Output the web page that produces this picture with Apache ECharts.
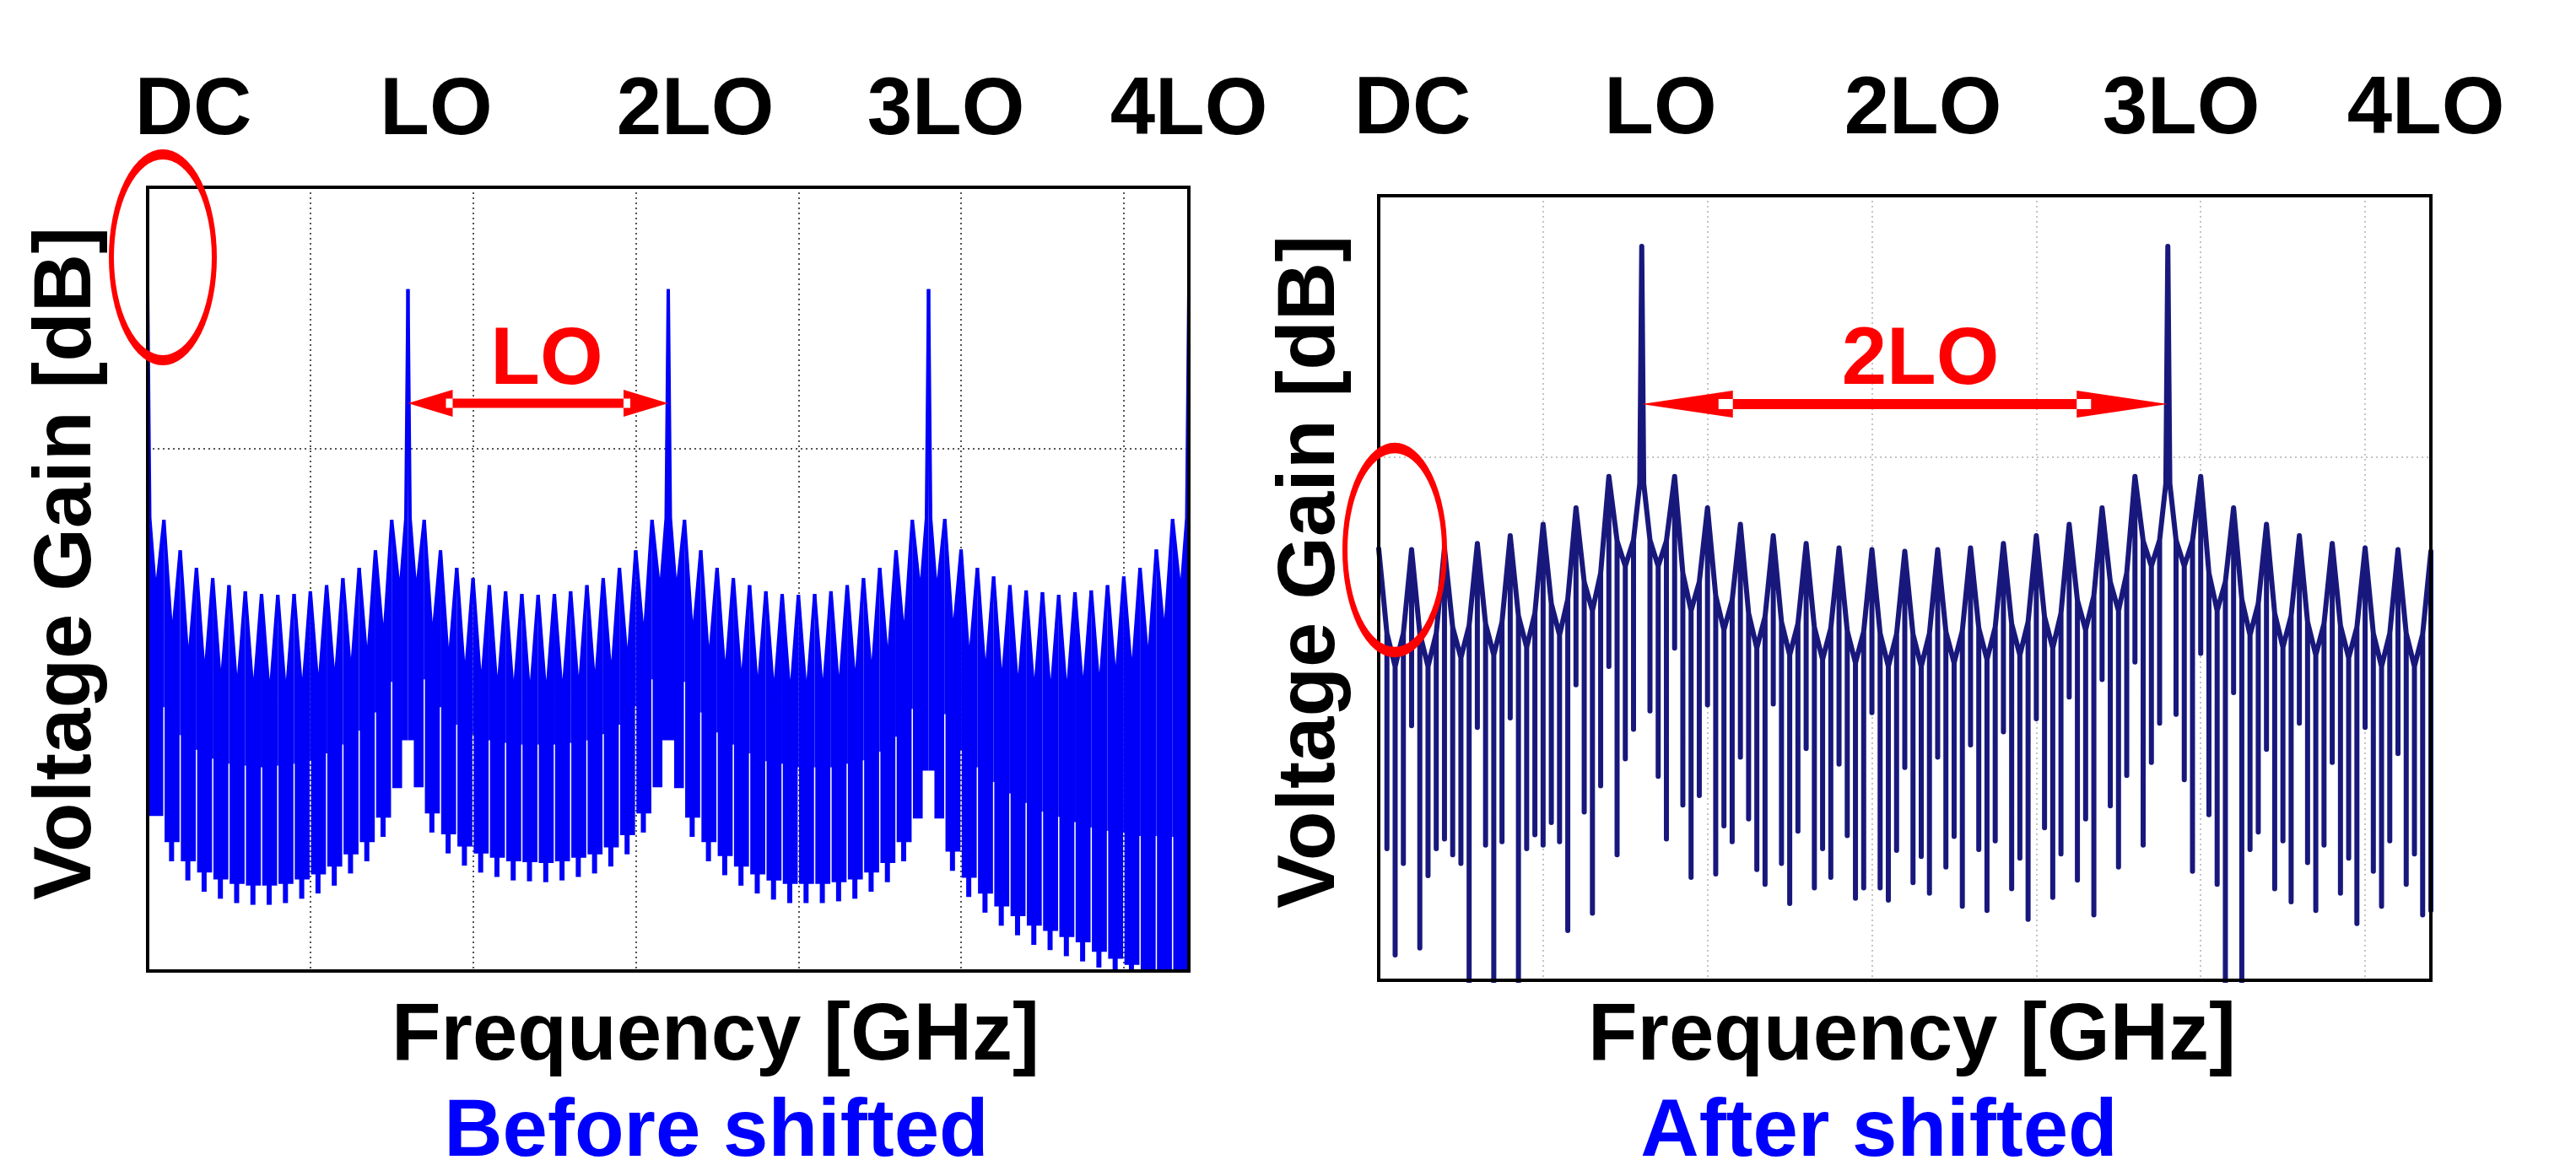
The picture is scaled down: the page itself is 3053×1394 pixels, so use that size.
<!DOCTYPE html>
<html><head><meta charset="utf-8">
<script src="https://cdn.jsdelivr.net/npm/echarts@6/dist/echarts.min.js"></script>
<style>html,body{margin:0;padding:0;background:#fff}#c{width:3053px;height:1394px}</style>
</head><body><div id="c"></div>
<script>
// ---------- tick labels ----------
const harmonicLabels = ['DC', 'LO', '2LO', '3LO', '4LO'];

// ---------- LEFT ("Before shifted"), x in sub-units (LO = 16), y in dB ----------
const lPeak = [18.3,
 -8.2,-11.7,-13.7,-14.9,-15.7,-16.4,-16.7,-16.8,-16.7,-16.4,-15.7,-14.9,-13.7,-11.7,-8.2,
 18.3,
 -8.2,-11.7,-13.7,-14.9,-15.7,-16.4,-16.7,-16.8,-16.7,-16.4,-15.7,-14.9,-13.7,-11.7,-8.2,
 18.3,
 -8.2,-11.7,-13.7,-14.9,-15.7,-16.4,-16.7,-16.8,-16.7,-16.4,-15.7,-14.9,-13.7,-11.7,-8.2,
 18.3,
 -8.1,-11.6,-13.7,-14.7,-15.7,-16.3,-16.5,-16.8,-16.5,-16.3,-15.7,-14.7,-13.7,-11.6,-8.1,
 18.3];
const lCusp = [
 -17.0,-22.2,-25.2,-26.8,-27.9,-28.5,-28.9,-29.1,-29.1,-28.9,-28.3,-27.7,-26.6,-25.2,-22.7,-17.0,
 -17.0,-22.5,-25.4,-27.0,-28.1,-28.7,-29.1,-29.2,-29.2,-29.1,-28.7,-28.1,-27.0,-25.4,-22.5,-17.0,
 -17.0,-22.3,-25.2,-26.9,-27.9,-28.6,-29.0,-29.1,-29.1,-29.0,-28.6,-27.9,-26.9,-25.2,-22.3,-17.0,
 -17.1,-22.0,-25.2,-26.8,-27.9,-28.5,-28.9,-29.1,-29.1,-28.7,-28.3,-27.4,-26.6,-25.2,-22.0,-17.1];
const lGap = [-37.0,
 -29.7,-32.9,-34.6,-35.6,-36.2,-36.4,-36.6,-36.4,-36.2,-35.8,-35.0,-34.0,-32.4,-30.3,-26.8,
 -33.5,
 -26.5,-29.7,-31.7,-32.8,-33.5,-33.8,-34.0,-34.0,-34.0,-33.8,-33.5,-32.8,-31.7,-29.6,-26.5,
 -33.5,
 -26.8,-30.3,-32.6,-34.0,-35.0,-35.9,-36.2,-36.6,-36.6,-36.6,-36.2,-35.8,-34.8,-33.1,-29.9,
 -37.0,
 -30.5,-34.6,-36.6,-38.3,-39.6,-40.7,-41.7,-42.3,-42.9,-43.5,-43.9,-44.1,-44.5,-44.5,-44.6,
 -44.6];
const lTooth = [
 -42.2,-45.2,-47.4,-48.7,-49.5,-50.0,-50.2,-50.2,-50.0,-49.5,-48.9,-48.0,-46.6,-45.2,-42.4,-39.0,
 -38.9,-41.9,-44.3,-45.7,-46.5,-47.0,-47.4,-47.5,-47.6,-47.4,-47.0,-46.6,-45.8,-44.4,-41.9,-38.9,
 -39.0,-42.4,-45.2,-46.8,-48.0,-48.9,-49.6,-50.0,-50.0,-50.0,-49.8,-49.5,-48.7,-47.6,-45.2,-42.5,
 -42.5,-46.3,-49.3,-51.1,-52.6,-53.7,-54.8,-55.4,-56.1,-56.7,-57.8,-58.6,-59.3,-60.0,-60.0,-60.0];
const lFoot = [
 -42.2,-47.4,-49.6,-50.9,-51.7,-52.2,-52.4,-52.4,-52.2,-51.7,-51.1,-50.2,-48.8,-47.4,-44.6,-39.0,
 -38.9,-44.1,-46.5,-47.9,-48.7,-49.2,-49.6,-49.7,-49.8,-49.6,-49.2,-48.8,-48.0,-46.6,-44.1,-38.9,
 -39.0,-44.6,-47.4,-49.0,-50.2,-51.1,-51.8,-52.2,-52.2,-52.2,-52.0,-51.7,-50.9,-49.8,-47.4,-42.5,
 -42.5,-48.5,-51.5,-53.3,-54.8,-55.9,-57.0,-57.6,-58.3,-58.9,-59.6,-60.0,-60.0,-60.0,-60.0,-60.0];
const lBigShoulder = -8.0;

// ---------- RIGHT ("After shifted") ----------
const rPeaks = [-10.5,-10.6,-10.4,-9.9,-9.0,-7.7,-5.8,-2.2, 24.2,
 -2.2,-5.8,-7.7,-9.0,-9.9,-10.4,-10.6, -10.8,
 -10.6,-10.4,-9.9,-9.0,-7.7,-5.8,-2.2, 24.2,
 -2.2,-5.8,-7.7,-9.0,-9.9,-10.4,-10.6,-10.8];
const rCusps = [-24.0,-24.0,-23.0,-22.7,-21.8,-20.4,-17.6,-12.5,
 -12.5,-17.6,-19.8,-21.9,-22.7,-23.2,-23.6,-24.0,
 -24.0,-23.6,-23.2,-22.7,-21.9,-19.8,-17.6,-12.5,
 -12.5,-17.6,-20.4,-21.8,-22.7,-23.0,-24.0,-24.0];
const rFlanks = [
 -20.2,-20.2,-20.2,-20.2,-19.5,-19.3,-19.1,-18.9,-18.2,-17.9,-16.8,-16.3,-14.3,-13.3,-9.6,-9.5,
 -9.5,-9.6,-13.3,-14.3,-15.9,-16.4,-17.9,-18.3,-18.9,-19.1,-19.5,-19.6,-19.9,-20.0,-20.2,-20.3,
 -20.3,-20.2,-20.0,-19.9,-19.6,-19.5,-19.1,-18.9,-18.3,-17.9,-16.4,-15.9,-14.3,-13.3,-9.6,-9.5,
 -9.5,-9.6,-13.3,-14.3,-16.3,-16.8,-17.9,-18.2,-18.9,-19.1,-19.3,-19.5,-20.2,-20.2,-20.2,-20.3];
const rDepths = [
 null,-44.9,-57.1,-46.6,-30.8,-56.3,-48.0,-44.9,-43.8,-45.6,-46.6,-60.2,-31.0,-44.5,-60.2,-44.1,
 -29.9,-60.2,-44.9,-43.3,-44.5,-41.9,-44.1,-54.3,-26.1,-40.7,-52.3,-37.7,-24.0,-45.6,-34.6,-31.2,
 null,-29.1,-36.6,-43.8,-21.9,-39.9,-48.2,-38.8,-28.4,-47.8,-42.3,-44.1,-34.4,-41.5,-47.3,-49.0,
 -28.3,-46.6,-51.2,-42.9,-33.4,-49.4,-44.9,-48.2,-35.2,-43.4,-50.6,-49.4,-29.3,-49.4,-50.8,-45.1,
 -35.6,-48.8,-45.8,-50.0,-34.4,-47.0,-43.5,-51.5,-33.0,-45.0,-52.0,-44.0,-31.5,-49.5,-46.0,-53.0,
 -30.0,-42.5,-50.5,-45.5,-27.5,-48.5,-41.5,-52.5,-25.5,-40.0,-47.0,-36.5,-23.5,-44.5,-35.0,-30.5,
 null,-29.5,-37.0,-47.5,-22.5,-41.0,-49.0,-60.2,-27.0,-60.2,-45.0,-43.0,-33.5,-49.5,-44.0,-51.0,
 -30.5,-46.5,-52.0,-44.5,-35.0,-50.0,-46.0,-53.5,-31.0,-47.5,-51.5,-44.0,-34.0,-49.0,-45.5,-52.5,
 -52.0];
const rBigShoulder = -3.0;

// ---------- build series data ----------
const BLUE = '#0000f8', NAVY = '#18187c', RED = '#ff0000';
const leftBlocks = [];
for (let j = 0; j < lCusp.length; j++) {
  leftBlocks.push([j, lPeak[j], lCusp[j], lPeak[j + 1], lGap[j], lGap[j + 1], lTooth[j], lFoot[j]]);
}
const rEnv = [];
for (let k = 0; k < rCusps.length; k++) rEnv.push(rPeaks[k], rFlanks[2 * k], rCusps[k], rFlanks[2 * k + 1]);
rEnv.push(rPeaks[rPeaks.length - 1]);
const rTrace = [];
for (let i = 0; i < rEnv.length; i++) {
  const x = i / 2, v = rEnv[i], big = v > 0;
  if (big) rTrace.push([x - 0.12, rBigShoulder]);
  rTrace.push([x, v]);
  if (big) rTrace.push([x + 0.12, rBigShoulder]);
  if (rDepths[i] !== null) { rTrace.push([x, rDepths[i]]); rTrace.push([x, v]); }
}

function renderLeft(params, api) {
  const j = api.value(0), P0 = api.value(1), C = api.value(2), P1 = api.value(3);
  const G0 = api.value(4), G1 = api.value(5), T = api.value(6), F = api.value(7);
  const big0 = P0 > 0, big1 = P1 > 0;
  const e0 = (big0 && j > 0) ? 0.36 : 0.04;
  const e1 = (big1 && j + 1 < 64) ? 0.36 : 0.04;
  const top = [[j, P0]];
  if (big0) top.push([j + 0.13, lBigShoulder]);
  top.push([j + 0.5, C]);
  if (big1) top.push([j + 0.87, lBigShoulder]);
  top.push([j + 1, P1]);
  const outline = top.concat([[j + 1, G1], [j + 1 - e1, G1], [j + 1 - e1, T], [j + e0, T], [j + e0, G0], [j, G0]]);
  const children = [
    { type: 'polygon', shape: { points: outline.map(p => api.coord(p)) }, style: { fill: BLUE } },
    { type: 'polyline', shape: { points: top.map(p => api.coord(p)) }, style: { stroke: BLUE, lineWidth: 4, fill: null, lineJoin: 'round' } }
  ];
  if (F < T - 0.05) {
    const a = api.coord([j + 0.47, T]), b = api.coord([j + 0.47, F]);
    children.push({ type: 'rect', shape: { x: a[0] - 3, y: a[1] - 1, width: 6, height: b[1] - a[1] + 1 }, style: { fill: BLUE } });
  }
  return { type: 'group', children: children };
}

function xAx(g, color) {
  return { gridIndex: g, type: 'value', min: 0, max: 64, interval: 10,
    axisLabel: { show: false }, axisTick: { show: false }, axisLine: { show: false },
    splitLine: { show: true, showMinLine: false, showMaxLine: false, lineStyle: { color: color, width: 2, type: [2, 4] } } };
}
function yAx(g, color) {
  return { gridIndex: g, type: 'value', min: -60, max: 30, interval: 60,
    axisLabel: { show: false }, axisTick: { show: false }, axisLine: { show: false },
    splitLine: { show: true, showMinLine: false, showMaxLine: false, lineStyle: { color: color, width: 2, type: [2, 4] } } };
}

const chart = echarts.init(document.getElementById('c'), null, { renderer: 'canvas' });
chart.setOption({
  animation: false,
  backgroundColor: '#ffffff',
  grid: [
    { left: 175, top: 222, width: 1234, height: 929, show: false },
    { left: 1634, top: 232, width: 1247, height: 930, show: false }
  ],
  xAxis: [xAx(0, '#555'), xAx(1, '#c4c4c4')],
  yAxis: [yAx(0, '#555'), yAx(1, '#c4c4c4')],
  series: [
    { type: 'custom', xAxisIndex: 0, yAxisIndex: 0, data: leftBlocks, renderItem: renderLeft,
      clip: true, silent: true, encode: { x: 0, y: 1 } },
    { type: 'line', xAxisIndex: 1, yAxisIndex: 1, data: rTrace, showSymbol: false, symbol: 'none',
      silent: true, clip: true,
      lineStyle: { color: NAVY, width: 6, join: 'round', cap: 'round' } }
  ]
});

// ---------- annotations ----------
const FONT = 'bold 96px "Liberation Sans", Arial, sans-serif';
function txt(s, x, y, color, rot) {
  return { type: 'text', x: x, y: y, rotation: rot || 0, z: 100,
    style: { text: s, fill: color, font: FONT, align: 'center', verticalAlign: 'middle',
             textAlign: 'center', textVerticalAlign: 'middle' } };
}
function frame(g) {
  const a = chart.convertToPixel({ gridIndex: g }, [0, 30]);
  const b = chart.convertToPixel({ gridIndex: g }, [64, -60]);
  return { type: 'rect', z: 90, shape: { x: a[0], y: a[1], width: b[0] - a[0], height: b[1] - a[1] },
    style: { fill: null, stroke: '#000', lineWidth: 4 } };
}
function arrow(g, xv1, xv2, yv, head, hh, sh, ww) {
  const a = chart.convertToPixel({ gridIndex: g }, [xv1, yv]);
  const b = chart.convertToPixel({ gridIndex: g }, [xv2, yv]);
  const x1 = a[0], x2 = b[0], y = a[1];
  return [
    { type: 'rect', z: 100, shape: { x: x1 + head - 1, y: y - sh, width: x2 - x1 - 2 * head + 2, height: 2 * sh }, style: { fill: RED } },
    { type: 'polygon', z: 100, shape: { points: [[x1, y], [x1 + head, y - hh], [x1 + head, y + hh]] }, style: { fill: RED } },
    { type: 'polygon', z: 100, shape: { points: [[x2, y], [x2 - head, y - hh], [x2 - head, y + hh]] }, style: { fill: RED } },
    { type: 'rect', z: 101, shape: { x: x1 + head - ww, y: y - sh, width: ww, height: 2 * sh }, style: { fill: '#fff' } },
    { type: 'rect', z: 101, shape: { x: x2 - head, y: y - sh, width: ww, height: 2 * sh }, style: { fill: '#fff' } }
  ];
}
function ellipse(cx, cy, rx, ry) {
  return { type: 'circle', x: cx, y: cy, scaleY: ry / rx, z: 100,
    shape: { cx: 0, cy: 0, r: rx }, style: { fill: null, stroke: RED, lineWidth: 6, strokeNoScale: true } };
}

const leftLabelX = [229, 517, 824, 1121, 1409];
const rightLabelX = [1674, 1968, 2279, 2585, 2875];
const g = [frame(0), frame(1)];
harmonicLabels.forEach((s, i) => { g.push(txt(s, leftLabelX[i], 133, '#000')); g.push(txt(s, rightLabelX[i], 132, '#000')); });
g.push(txt('Voltage Gain [dB]', 81, 668, '#000', Math.PI / 2));
g.push(txt('Voltage Gain [dB]', 1555, 678, '#000', Math.PI / 2));
g.push(txt('Frequency [GHz]', 848, 1230, '#000'));
g.push(txt('Frequency [GHz]', 2266, 1230, '#000'));
g.push(txt('Before shifted', 849, 1344, '#0000ff'));
g.push(txt('After shifted', 2227, 1344, '#0000ff'));
g.push(txt('LO', 648, 429, RED));
g.push(txt('2LO', 2276, 429, RED));
arrow(0, 16, 32, 5.2, 53, 16, 5.5, 8).forEach(e => g.push(e));
arrow(1, 16, 48, 6.1, 108, 16, 6, 17).forEach(e => g.push(e));
g.push(ellipse(193, 305, 61, 122));
g.push(ellipse(1653, 652, 59, 121));
chart.setOption({ graphic: { elements: g } });
</script></body></html>
